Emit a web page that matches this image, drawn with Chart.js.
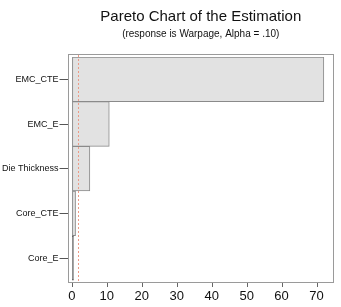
<!DOCTYPE html>
<html><head><meta charset="utf-8">
<script src="https://cdn.jsdelivr.net/npm/chart.js@4"></script>
<style>html,body{margin:0;padding:0;background:#fff}#wrap{width:341px;height:307px}</style>
</head><body><div id="wrap"><canvas id="c" width="341" height="307"></canvas></div>
<script>
const categories = ["EMC_CTE", "EMC_E", "Die Thickness", "Core_CTE", "Core_E"];
const effects = [72.1, 10.7, 5.15, 1.05, 0.45];
const criticalValue = 1.8;
const titleText = "Pareto Chart of the Estimation";
const subtitleText = "(response is Warpage, Alpha = .10)";

const FRAME_PAD = 3;
const framePlugin = {
  id: 'frame',
  afterDatasetsDraw(chart) {
    const a = chart.chartArea, ctx = chart.ctx, xs = chart.scales.x;
    const top = Math.round(a.top) - FRAME_PAD, bottom = Math.round(a.bottom) + FRAME_PAD;
    ctx.save();
    // critical value reference line
    const rx = Math.round(xs.getPixelForValue(criticalValue)) + 0.5;
    ctx.strokeStyle = '#ec9a86';
    ctx.lineWidth = 1;
    ctx.setLineDash([2, 2]);
    ctx.beginPath(); ctx.moveTo(rx, top + 1); ctx.lineTo(rx, bottom - 1); ctx.stroke();
    ctx.setLineDash([]);
    // frame
    ctx.strokeStyle = '#9a9a9a';
    ctx.strokeRect(Math.round(a.left) + 0.5, top + 0.5, Math.round(a.right - a.left) - 1, bottom - top - 1);
    // x tick marks below frame
    ctx.strokeStyle = '#666';
    xs.ticks.forEach(t => {
      const px = Math.round(xs.getPixelForValue(t.value)) + 0.5;
      ctx.beginPath(); ctx.moveTo(px, bottom); ctx.lineTo(px, bottom + 4); ctx.stroke();
    });
    ctx.restore();
  }
};

new Chart(document.getElementById('c'), {
  type: 'bar',
  data: {
    labels: categories,
    datasets: [{
      data: effects,
      backgroundColor: ['#e2e2e2', '#e2e2e2', '#e2e2e2', '#e2e2e2', '#666666'],
      borderColor: ['#8a8a8a', '#8a8a8a', '#8a8a8a', '#8a8a8a', '#555555'],
      borderWidth: 1,
      borderSkipped: false,
      barPercentage: 1,
      categoryPercentage: 1
    }]
  },
  options: {
    indexAxis: 'y',
    responsive: false,
    animation: false,
    layout: { padding: { left: 1, right: 7, top: 4, bottom: 2 } },
    plugins: {
      legend: { display: false },
      tooltip: { enabled: false },
      title: {
        display: true, text: titleText, fullSize: false,
        color: '#111', font: { family: 'Liberation Sans', size: 15, weight: 'normal' },
        padding: { top: 4, bottom: 2 }
      },
      subtitle: {
        display: true, text: subtitleText, fullSize: false,
        color: '#111', font: { family: 'Liberation Sans', size: 10, weight: 'normal' },
        padding: { top: 0, bottom: 17 }
      }
    },
    scales: {
      x: {
        type: 'linear', min: -1.25, max: 75,
        border: { display: false },
        grid: { drawOnChartArea: false, drawTicks: true, tickLength: 7, tickColor: 'rgba(0,0,0,0)' },
        ticks: { stepSize: 10, includeBounds: false, color: '#111', padding: 1,
                 font: { family: 'Liberation Sans', size: 13 }, maxRotation: 0 }
      },
      y: {
        type: 'category',
        border: { display: false },
        grid: { offset: false, drawOnChartArea: false, drawTicks: true, tickLength: 8, tickColor: '#555' },
        ticks: { color: '#111', padding: 1, font: { family: 'Liberation Sans', size: 9 } }
      }
    }
  },
  plugins: [framePlugin]
});
</script></body></html>
